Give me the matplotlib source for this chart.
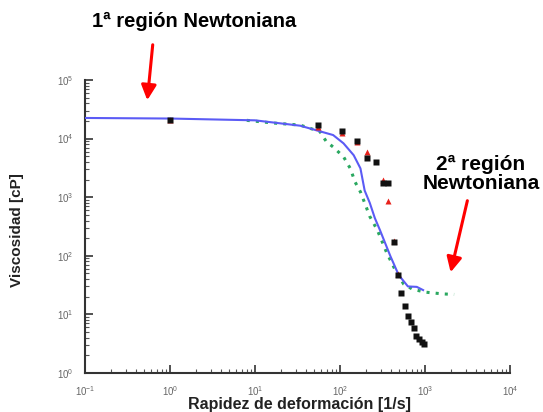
import matplotlib
matplotlib.use("Agg")
import matplotlib.pyplot as plt
from matplotlib.ticker import LogLocator, NullFormatter

# Datos (escala log-log)
modelo1_x = [0.1, 1, 10, 34, 83, 110, 145, 174, 195, 224, 257, 295, 390, 490, 630, 800, 950]
modelo1_y = [2.25e4, 2.2e4, 2.05e4, 1.66e4, 1.15e4, 8.3e3, 5.2e3, 3.1e3, 1.3e3, 800, 440, 275, 100, 47, 30, 29.5, 26]

modelo2_x = [8, 16, 34, 58, 69, 83, 110, 132, 151, 174, 195, 224, 275, 355, 450, 560, 710, 1000, 1600, 2200]
modelo2_y = [2.05e4, 1.85e4, 1.7e4, 1.32e4, 8.9e3, 7.2e3, 4.9e3, 3.1e3, 1.8e3, 1.23e3, 800, 470, 275, 112, 56, 33, 27, 24, 22.4, 21.9]

exp1_x = [1, 55, 107, 158, 209, 263, 324, 372, 427, 479, 525, 575, 631, 692, 741, 794, 851, 912, 977]
exp1_y = [2.1e4, 1.7e4, 1.35e4, 9.1e3, 4.6e3, 4.0e3, 1.78e3, 1.78e3, 174, 47, 23.4, 13.8, 9.5, 7.4, 5.75, 4.27, 3.8, 3.4, 3.1]

exp2_x = [1, 55, 107, 158, 209, 324, 372, 427, 479]
exp2_y = [2.05e4, 1.55e4, 1.23e4, 8.7e3, 6.0e3, 1.95e3, 870, 182, 48]

plt.rcParams['font.family'] = ['Liberation Sans', 'DejaVu Sans']

fig = plt.figure(figsize=(5.43, 4.12), dpi=100)
ax = fig.add_axes([85 / 543, 1 - 373 / 412, 425 / 543, 293 / 412])

ax.plot(modelo1_x, modelo1_y, color='#5b5bf5', lw=1.5, zorder=3)
ax.plot(modelo2_x, modelo2_y, color='#2aa860', lw=2.2, ls=(0, (1, 2)), zorder=2)
ax.plot(exp2_x, exp2_y, '^', color='#e8201a', ms=4.5, mec='none', zorder=4)
ax.plot(exp1_x, exp1_y, 's', color='#111111', ms=4, mec='none', zorder=5)

ax.set_xscale('log')
ax.set_yscale('log')
ax.set_xlim(0.1, 1e4)
ax.set_ylim(1, 1e5)

for s in ['top', 'right']:
    ax.spines[s].set_visible(False)
for s in ['left', 'bottom']:
    ax.spines[s].set_color('#333333')
    ax.spines[s].set_linewidth(1.5)

ax.xaxis.set_major_locator(LogLocator(base=10, numticks=10))
ax.yaxis.set_major_locator(LogLocator(base=10, numticks=10))
ax.xaxis.set_minor_locator(LogLocator(base=10, subs=range(2, 10), numticks=20))
ax.yaxis.set_minor_locator(LogLocator(base=10, subs=range(2, 10), numticks=20))
ax.xaxis.set_minor_formatter(NullFormatter())
ax.yaxis.set_minor_formatter(NullFormatter())
ax.tick_params(which='major', direction='in', length=6, width=1.2, color='#333333',
               labelsize=7, labelcolor='#666666', pad=8)
ax.tick_params(which='minor', direction='in', length=3, width=0.8, color='#555555')

fig.text(300 / 543, 1 - 405 / 412, 'Rapidez de deformación [1/s]', ha='center', va='center',
         fontsize=11.5, fontweight='bold', color='#222222')
fig.text(17 / 543, 1 - 230 / 412, 'Viscosidad [cP]', ha='center', va='center', rotation=90,
         fontsize=11, fontweight='bold', color='#222222')

fig.text(194 / 543, 1 - 21 / 412, '1ª región Newtoniana', ha='center', va='center',
         fontsize=14.5, fontweight='bold', color='black')
fig.text(481 / 543, 1 - 174 / 412, '2ª región\nNewtoniana', ha='center', va='center',
         fontsize=15, fontweight='bold', color='black', linespacing=1.05)

fig.add_artist(matplotlib.patches.FancyArrowPatch(
    (153 / 543, 1 - 42 / 412), (147 / 543, 1 - 103 / 412), transform=fig.transFigure,
    arrowstyle='-|>,head_length=6,head_width=3', color='#ff0000', lw=2.2, mutation_scale=1.5))
fig.add_artist(matplotlib.patches.FancyArrowPatch(
    (468 / 543, 1 - 198 / 412), (450 / 543, 1 - 275 / 412), transform=fig.transFigure,
    arrowstyle='-|>,head_length=6,head_width=3', color='#ff0000', lw=2.2, mutation_scale=1.5))

fig.savefig('out.png', dpi=100)
